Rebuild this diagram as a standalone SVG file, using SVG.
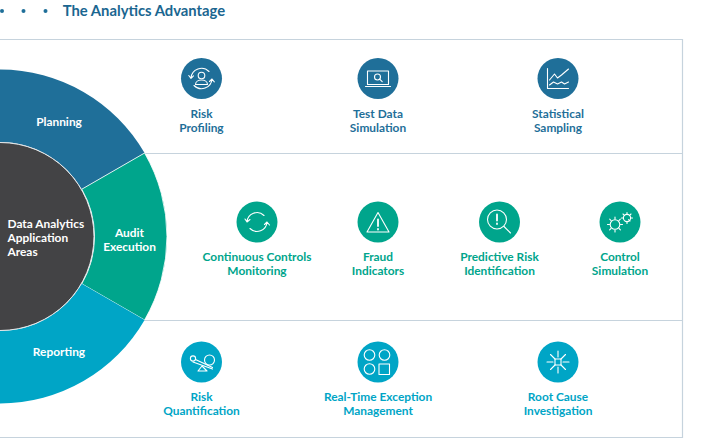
<svg xmlns="http://www.w3.org/2000/svg" width="723" height="441" viewBox="0 0 723 441">
<style>
text{font-family:Lato,"Open Sans",sans-serif;font-weight:700;text-anchor:middle}
.t{font-size:11.9px}
.b{fill:#1f6f99}.g{fill:#00a58c}.c{fill:#00a5c6}
.w{font-size:11.9px;fill:#fff}
.i{fill:none;stroke:#fff;stroke-width:1.1;stroke-linecap:round;stroke-linejoin:round}
.rule{stroke:#c6d3dd;stroke-width:1.2;fill:none}
</style>
<rect width="723" height="441" fill="#fff"/>
<g id="header">
<circle cx="2" cy="11" r="2" fill="#1f6f99"/><circle cx="23.500" cy="11" r="2" fill="#1f6f99"/><circle cx="45.500" cy="11" r="2" fill="#1f6f99"/>
<text x="144" y="15.500" style="font-size:14.800px" fill="#1a6690">The Analytics Advantage</text>
</g>
<g id="connectors">
<path class="rule" d="M-2 39.500H682.500V437.500H-2"/>
<path class="rule" d="M143 153.500H682.500M143 320.500H682.500"/>
</g>
<g id="planning">
<path d="M0 69.500A167 167 0 0 1 144.600 153L81.800 189.200A94.500 94.500 0 0 0 0 142Z" fill="#1f6f99"/>
<text class="w" x="59" y="126">Planning</text>
</g>
<g id="audit-execution">
<path d="M144.600 153A167 167 0 0 1 144.600 320L81.800 283.800A94.500 94.500 0 0 0 81.800 189.200Z" fill="#00a58c" stroke="#fff" stroke-width="0.8"/>
<text class="w" x="129.500" y="237">Audit</text><text class="w" x="129.500" y="251">Execution</text>
</g>
<g id="reporting">
<path d="M144.600 320A167 167 0 0 1 0 403.500V331A94.500 94.500 0 0 0 81.800 283.800Z" fill="#00a5c6"/>
<text class="w" x="59" y="356">Reporting</text>
</g>
<g id="center">
<circle cx="0" cy="236.500" r="94" fill="#434345" stroke="#e4e8ea" stroke-width="1"/>
<text class="w" x="7.500" y="228" style="text-anchor:start">Data Analytics</text>
<text class="w" x="7.500" y="242" style="text-anchor:start">Application</text>
<text class="w" x="7.500" y="256" style="text-anchor:start">Areas</text>
</g>
<g id="risk-profiling">
<circle cx="201.500" cy="78.500" r="20.500" class="b"/>
<g class="i"><circle cx="201.500" cy="75.500" r="3.300"/><path d="M195.500 84.500c0-6 12-6 12 0z"/><path d="M191 78a10.500 10.500 0 0 1 18-6.500M212 79a10.500 10.500 0 0 1-18 6.500M188.800 75.500l2.200 2.800 2.500-2.500M209.500 81.500l2.500-2.500 2.300 2.800"/></g>
<text class="t b" x="201.500" y="117.500">Risk</text><text class="t b" x="201.500" y="131.500">Profiling</text>
</g>
<g id="test-data-simulation">
<circle cx="378" cy="78.500" r="20.500" class="b"/>
<g class="i"><rect x="367.500" y="71" width="21" height="13.500"/><path d="M365.500 86.500h25"/><circle cx="377.500" cy="77" r="3"/><path d="M379.700 79.200l2.500 2.500"/></g>
<text class="t b" x="378" y="117.500">Test Data</text><text class="t b" x="378" y="131.500">Simulation</text>
</g>
<g id="statistical-sampling">
<circle cx="558" cy="78.500" r="20.500" class="b"/>
<g class="i"><path d="M547.500 68.500v20h21"/><path d="M549.500 80l5-6 3 4 4-3 7-6M549.500 85l4-3 4 2 4-2 3 2 4-2"/></g>
<text class="t b" x="558" y="117.500">Statistical</text><text class="t b" x="558" y="131.500">Sampling</text>
</g>
<g id="continuous-controls-monitoring">
<circle cx="257" cy="222" r="20.500" class="g"/>
<g class="i"><path d="M247 222a10 10 0 0 1 17-6.500M267 222a10 10 0 0 1-17 6.500M245 219l2 3 3-2.500M264.500 224.500l2.500-2.500 2.500 3"/></g>
<text class="t g" x="257" y="261">Continuous Controls</text><text class="t g" x="257" y="275">Monitoring</text>
</g>
<g id="fraud-indicators">
<circle cx="378" cy="222" r="20.500" class="g"/>
<g class="i"><path d="M378 212.500l11 19.500h-22z"/><path d="M378 219.500v6.500M378 229v.5" stroke-width="1.800"/></g>
<text class="t g" x="378" y="261">Fraud</text><text class="t g" x="378" y="275">Indicators</text>
</g>
<g id="predictive-risk-identification">
<circle cx="499.500" cy="222" r="20.500" class="g"/>
<g class="i"><circle cx="497" cy="219.500" r="9.500"/><path d="M504 226.500l6.500 6.500"/><path d="M497 214.500v6M497 223.500v.5" stroke-width="1.800"/></g>
<text class="t g" x="499.500" y="261">Predictive Risk</text><text class="t g" x="499.500" y="275">Identification</text>
</g>
<g id="control-simulation">
<circle cx="620" cy="222" r="20.500" class="g"/>
<g class="i"><circle cx="615" cy="224.500" r="4.800"/><circle cx="627" cy="218" r="3.600"/><path d="M615 217v2M615 230v2M607.500 224.500h2M620.500 224.500h2M609.700 219.200l1.400 1.400M619 228.500l1.400 1.400M620.300 219.200l-1.400 1.400M611 228.500l-1.400 1.400M627 212.500v2M627 221.500v2M621.500 218h2M630.500 218h2M623 214l1.400 1.400M630 221l-1.400-1.400M631 214l-1.400 1.400"/></g>
<text class="t g" x="620" y="261">Control</text><text class="t g" x="620" y="275">Simulation</text>
</g>
<g id="risk-quantification">
<circle cx="201.500" cy="362" r="20.500" class="c"/>
<g class="i"><circle cx="193" cy="358.500" r="2.600"/><circle cx="209.500" cy="360" r="5"/><path d="M195.500 359.500l17 8M193 362l19.500 7"/><path d="M202 366l-4 5h9z"/></g>
<text class="t c" x="201.500" y="400.500">Risk</text><text class="t c" x="201.500" y="414.500">Quantification</text>
</g>
<g id="real-time-exception-management">
<circle cx="378" cy="362" r="20.500" class="c"/>
<g class="i"><circle cx="369.500" cy="355" r="5.300"/><circle cx="384.500" cy="355" r="5.300"/><circle cx="369.500" cy="369" r="5.300"/><rect x="379" y="364" width="10.500" height="10.500"/></g>
<text class="t c" x="378" y="400.500">Real-Time Exception</text><text class="t c" x="378" y="414.500">Management</text>
</g>
<g id="root-cause-investigation">
<circle cx="558" cy="362" r="20.500" class="c"/>
<g class="i"><rect x="555" y="359" width="6" height="6"/><path d="M558 351v6M558 367v6M547 362h6M563 362h6M550.500 354.500l4.500 4.500M561 365l4.500 4.500M565.500 354.500l-4.500 4.500M555 365l-4.500 4.500"/></g>
<text class="t c" x="558" y="400.500">Root Cause</text><text class="t c" x="558" y="414.500">Investigation</text>
</g>
</svg>
